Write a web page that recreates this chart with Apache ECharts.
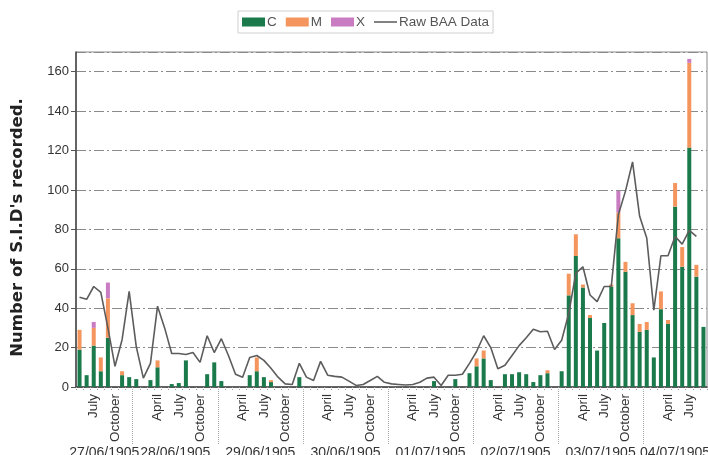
<!DOCTYPE html>
<html>
<head>
<meta charset="utf-8">
<script src="https://cdn.jsdelivr.net/npm/echarts@6/dist/echarts.min.js"></script>
<style>html,body{margin:0;padding:0;background:#fff;}#c{width:708px;height:455px;}</style>
</head>
<body>
<div id="c"></div>
<script>
// Year group labels (as printed on the chart)
const yearLabels = ['27/06/1905','28/06/1905','29/06/1905','30/06/1905','01/07/1905','02/07/1905','03/07/1905','04/07/1905'];
const monthNames = ['January','February','March','April','May','June','July','August','September','October','November','December'];
const firstMonth = 4;   // series starts in May of the first year
const monthCount = 89;  // May (year 1) .. September (year 8)
const shownMonths = ['April','July','October'];

// C-class events
const seriesC = [
  19, 6, 21, 8, 25, 0, 6, 5, 4, 0,
  3.5, 10, 0, 1.5, 2, 13.5, 0, 0, 6.5, 12.5,
  3, 0, 0, 0, 6, 8, 5, 2.5, 0, 0,
  0, 5, 0, 0, 0, 0, 0, 0, 0, 0,
  0, 0, 0, 0, 0, 0, 0, 0, 0, 0,
  3, 0, 0, 4, 0, 7, 10.5, 14.5, 3.5, 0,
  6.5, 6.5, 7.5, 6.5, 2.5, 6, 7, 0, 8, 46.5,
  66.5, 50.5, 35, 18.5, 32.5, 51, 75.5, 58.5, 36.5, 28,
  29, 15, 39.5, 32, 91.5, 61, 121.5, 56, 30.5
];
// M-class events
const seriesM = [
  10, 0, 9, 7, 20, 0, 2, 0, 0, 0,
  0, 3.5, 0, 0, 0, 0, 0, 0, 0, 0,
  0, 0, 0, 0, 0, 7, 0, 1, 0, 0,
  0, 0, 0, 0, 0, 0, 0, 0, 0, 0,
  0, 0, 0, 0, 0, 0, 0, 0, 0, 0,
  0, 0, 0, 0, 0, 0, 4, 4, 0, 0,
  0, 0, 0, 0, 0, 0, 1.5, 0, 0, 11,
  11, 1.5, 1.5, 0, 0, 1, 13, 5, 6, 4,
  4, 0, 9, 2, 12, 10, 43, 6, 0
];
// X-class events
const seriesX = [
  0, 0, 3, 0, 8, 0, 0, 0, 0, 0,
  0, 0, 0, 0, 0, 0, 0, 0, 0, 0,
  0, 0, 0, 0, 0, 0, 0, 0, 0, 0,
  0, 0, 0, 0, 0, 0, 0, 0, 0, 0,
  0, 0, 0, 0, 0, 0, 0, 0, 0, 0,
  0, 0, 0, 0, 0, 0, 0, 0, 0, 0,
  0, 0, 0, 0, 0, 0, 0, 0, 0, 0,
  0, 0, 0, 0, 0, 0, 11, 0, 0, 0,
  0, 0, 0, 0, 0, 0, 2, 0, 0
];
// Raw BAA data
const rawBAA = [
  45.5, 44.5, 51, 48, 30, 10.5, 24, 48.5, 20.5, 4.5,
  12, 41, 30, 17, 17, 16.5, 17.5, 12.5, 26, 17.5,
  24.5, 16, 6.5, 5, 15, 16, 13.5, 9.5, 5, 1.6,
  1.3, 12, 5, 3.3, 13, 6, 5.4, 5, 3, 0.8,
  1.3, 3.3, 5.4, 2.4, 1.6, 1.3, 1, 1.3, 2.4, 4.5,
  5, 0.8, 6, 6, 6.5, 12, 18, 26, 20, 9.3,
  11, 16, 21, 25, 29.3, 28, 28.3, 19, 23.7, 37.3,
  57.8, 61, 46.7, 43.3, 51, 51, 87.5, 99.4, 114.2, 86.6,
  75.6, 39, 66.6, 66.6, 76.4, 72.5, 79.5, 76.4, null
];

// Build month categories and year grouping
const monthCats = [];
const yearOfMonth = [];
for (let i = 0; i < monthCount; i++) {
  const m = firstMonth + i;
  monthCats.push(monthNames[m % 12]);
  yearOfMonth.push(Math.floor(m / 12));
}
// half-month grid for the year-group axis: point k sits at k/2 months from the left edge
const yearAxisData = new Array(monthCount * 2 + 1).fill('');
const yearBoundaries = {};
yearLabels.forEach((lab, y) => {
  const first = yearOfMonth.indexOf(y);
  const last = yearOfMonth.lastIndexOf(y);
  yearAxisData[first + last + 1] = lab;
  if (first > 0) yearBoundaries[2 * first] = true;
});

const FONT = '"Liberation Sans", Arial, sans-serif';
const chart = echarts.init(document.getElementById('c'), null, {renderer: 'canvas'});
chart.setOption({
  animation: false,
  backgroundColor: '#fff',
  textStyle: {fontFamily: FONT},
  legend: {
    left: 238, top: 11,
    itemWidth: 23, itemHeight: 9, itemGap: 9,
    padding: [4, 4],
    borderColor: '#cfcfcf', borderWidth: 1,
    textStyle: {fontSize: 13.5, color: '#555', fontFamily: FONT, padding: [0, 0, 0, -3]},
    data: [
      {name: 'C', icon: 'rect'},
      {name: 'M', icon: 'rect'},
      {name: 'X', icon: 'rect'},
      {name: 'Raw BAA Data', icon: 'path://M0,0 L24,0 L24,1.6 L0,1.6 Z', itemStyle: {color: '#5c5c5c'}}
    ]
  },
  grid: {left: 76, right: 1, top: 52, bottom: 68, show: true, borderColor: '#888', borderWidth: 1,
         containLabel: false, outerBoundsMode: 'none'},
  xAxis: [
    {
      type: 'category', data: monthCats, position: 'bottom',
      axisLine: {show: true, lineStyle: {color: '#444', width: 1.5}},
      axisTick: {show: true, interval: 0, length: 4, lineStyle: {color: '#999', type: 'dotted'}},
      axisLabel: {
        interval: (i, v) => shownMonths.indexOf(v) >= 0,
        rotate: 90, fontSize: 13.5, color: '#333', margin: 7, fontFamily: FONT
      },
      splitLine: {show: false}
    },
    {
      type: 'category', data: yearAxisData, position: 'bottom', boundaryGap: false,
      axisLine: {show: false},
      axisTick: {show: true, interval: (i) => !!yearBoundaries[i], length: 58, lineStyle: {color: '#aaa', type: 'dotted'}},
      axisLabel: {interval: (i, v) => v !== '', fontSize: 14, color: '#333', margin: 59, fontFamily: FONT, hideOverlap: false},
      splitLine: {show: false}
    }
  ],
  yAxis: {
    type: 'value', min: 0, max: 170, interval: 20,
    name: "Number of S.I.D's recorded.", nameLocation: 'middle', nameGap: 50,
    nameTextStyle: {fontSize: 16.5, fontWeight: 'bold', color: '#222', fontFamily: '"DejaVu Sans", sans-serif', padding: [0, 16, 0, 0]},
    axisLine: {show: true, lineStyle: {color: '#444', width: 1.5}},
    axisTick: {show: true, length: 5, lineStyle: {color: '#555'}},
    axisLabel: {fontSize: 13, color: '#333', margin: 7, showMaxLabel: false, fontFamily: FONT},
    splitLine: {show: true, lineStyle: {color: '#8a8a8a', width: 1, type: [10, 3, 2, 3]}}
  },
  series: [
    {name: 'C', type: 'bar', stack: 'sid', data: seriesC, barWidth: 4, itemStyle: {color: '#1b7a4b'}},
    {name: 'M', type: 'bar', stack: 'sid', data: seriesM, barWidth: 4, itemStyle: {color: '#f4955e'}},
    {name: 'X', type: 'bar', stack: 'sid', data: seriesX, barWidth: 4, itemStyle: {color: '#c97cc2'}},
    {name: 'Raw BAA Data', type: 'line', data: rawBAA, symbol: 'none', showSymbol: false,
     lineStyle: {color: '#5c5c5c', width: 1.6}, itemStyle: {color: '#5c5c5c'}, z: 3}
  ]
});
</script>
</body>
</html>
